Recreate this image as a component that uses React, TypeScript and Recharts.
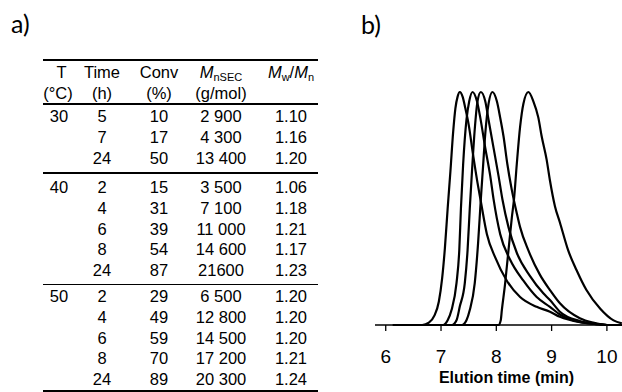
import React from "react";
import { LineChart, Line, XAxis, YAxis } from "recharts";

// ─── Table (panel a) ─────────────────────────────────────────────────────────

const temps = ["30", "40", "50"];
const groupTimes = [
  ["5", "7", "24"],
  ["2", "4", "6", "8", "24"],
  ["2", "4", "6", "8", "24"],
];
const groupConv = [
  ["10", "17", "50"],
  ["15", "31", "39", "54", "87"],
  ["29", "49", "59", "70", "89"],
];
const groupMn = [
  ["2 900", "4 300", "13 400"],
  ["3 500", "7 100", "11 000", "14 600", "21600"],
  ["6 500", "12 800", "14 500", "17 200", "20 300"],
];
const groupPdi = [
  ["1.10", "1.16", "1.20"],
  ["1.06", "1.18", "1.21", "1.17", "1.23"],
  ["1.20", "1.20", "1.20", "1.21", "1.24"],
];

// ─── SEC traces (panel b), normalised detector signal vs elution time ───────

const traceA_t = [6.13, 6.66, 6.78, 6.88, 6.96, 7.02, 7.07, 7.12, 7.17, 7.22, 7.26, 7.3, 7.34, 7.39, 7.44, 7.5, 7.58, 7.66, 7.72, 7.83, 7.98, 8.19, 8.43, 8.73, 8.97, 9.15, 9.51, 9.8, 10.05, 10.27];
const traceA_y = [0, 0, 0.01, 0.04, 0.1, 0.2, 0.33, 0.5, 0.66, 0.83, 0.93, 0.98, 1.0, 0.98, 0.93, 0.86, 0.73, 0.61, 0.53, 0.39, 0.29, 0.19, 0.12, 0.078, 0.057, 0.035, 0.012, 0.004, 0, 0];

const traceB_t = [6.13, 7.04, 7.12, 7.19, 7.28, 7.33, 7.36, 7.4, 7.46, 7.51, 7.57, 7.65, 7.71, 7.8, 7.89, 7.95, 8.07, 8.25, 8.49, 8.73, 8.97, 9.15, 9.51, 9.8, 10.0, 10.27];
const traceB_y = [0, 0, 0.02, 0.064, 0.18, 0.32, 0.5, 0.69, 0.88, 0.96, 1.0, 0.96, 0.89, 0.76, 0.64, 0.54, 0.39, 0.28, 0.19, 0.12, 0.078, 0.045, 0.013, 0.004, 0, 0];

const traceC_t = [6.13, 7.2, 7.28, 7.34, 7.43, 7.48, 7.52, 7.56, 7.61, 7.66, 7.72, 7.8, 7.86, 7.95, 8.04, 8.11, 8.22, 8.37, 8.61, 8.85, 8.97, 9.15, 9.51, 9.8, 10.0, 10.27];
const traceC_y = [0, 0, 0.02, 0.08, 0.18, 0.32, 0.5, 0.66, 0.84, 0.96, 1.0, 0.96, 0.88, 0.76, 0.64, 0.54, 0.42, 0.31, 0.21, 0.136, 0.107, 0.057, 0.017, 0.005, 0, 0];

const traceD_t = [6.13, 7.38, 7.46, 7.52, 7.61, 7.67, 7.72, 7.76, 7.8, 7.86, 7.93, 8.01, 8.07, 8.13, 8.2, 8.28, 8.37, 8.43, 8.58, 8.79, 8.97, 9.15, 9.51, 9.75, 10.0, 10.27];
const traceD_y = [0, 0, 0.02, 0.064, 0.18, 0.35, 0.54, 0.68, 0.82, 0.95, 1.0, 0.96, 0.89, 0.81, 0.69, 0.58, 0.48, 0.42, 0.32, 0.215, 0.15, 0.093, 0.029, 0.01, 0, 0];

const traceE_t = [6.13, 8.04, 8.08, 8.1, 8.16, 8.19, 8.22, 8.28, 8.32, 8.37, 8.43, 8.49, 8.58, 8.67, 8.76, 8.82, 8.91, 8.97, 9.06, 9.15, 9.3, 9.45, 9.63, 9.88, 10.12, 10.27];
const traceE_y = [0, 0, 0.02, 0.064, 0.18, 0.25, 0.32, 0.46, 0.54, 0.69, 0.85, 0.95, 1.0, 0.96, 0.89, 0.81, 0.71, 0.62, 0.51, 0.44, 0.32, 0.236, 0.15, 0.07, 0.02, 0.007];

const timeTicks = [6, 7, 8, 9, 10];

const toPoints = (t: number[], y: number[]) => t.map((v, i) => ({ t: v, y: y[i] }));

const traces = [
  toPoints(traceA_t, traceA_y),
  toPoints(traceB_t, traceB_y),
  toPoints(traceC_t, traceC_y),
  toPoints(traceD_t, traceD_y),
  toPoints(traceE_t, traceE_y),
];

const FONT = "'Liberation Sans', Arial, sans-serif";

// column centres (px) for the table
const COLS = [59, 102, 159, 221, 291];
const GROUP_START = [116, 187, 296];
const ROW_STEP = 20.8;
const RULES = [60, 104, 173, 284.3, 391];

function Cell({ x, y, children }: { x: number; y: number; children: React.ReactNode }) {
  return (
    <div
      style={{
        position: "absolute",
        left: x - 40,
        width: 80,
        top: y - 10,
        height: 20,
        lineHeight: "20px",
        textAlign: "center",
        fontSize: 16.5,
        whiteSpace: "nowrap",
      }}
    >
      {children}
    </div>
  );
}

const sub = (s: string) => (
  <span style={{ fontSize: 11, fontStyle: "normal", position: "relative", top: 3 }}>{s}</span>
);

function DataTable() {
  const cells: React.ReactNode[] = [];
  groupTimes.forEach((times, g) => {
    times.forEach((tm, i) => {
      const y = GROUP_START[g] + i * ROW_STEP;
      if (i === 0) cells.push(<Cell key={`T${g}`} x={COLS[0]} y={y}>{temps[g]}</Cell>);
      cells.push(<Cell key={`t${g}${i}`} x={COLS[1]} y={y}>{tm}</Cell>);
      cells.push(<Cell key={`c${g}${i}`} x={COLS[2]} y={y}>{groupConv[g][i]}</Cell>);
      cells.push(<Cell key={`m${g}${i}`} x={COLS[3]} y={y}>{groupMn[g][i]}</Cell>);
      cells.push(<Cell key={`p${g}${i}`} x={COLS[4]} y={y}>{groupPdi[g][i]}</Cell>);
    });
  });
  return (
    <>
      {RULES.map((r, i) => (
        <div key={`r${i}`} style={{ position: "absolute", left: 43, width: 275, top: r - 0.75, height: 1.5, background: "#000" }} />
      ))}
      <Cell x={61.5} y={72}>T</Cell>
      <Cell x={COLS[1]} y={72}>Time</Cell>
      <Cell x={COLS[2]} y={72}>Conv</Cell>
      <Cell x={COLS[3]} y={72}>
        <i>M</i>{sub("nSEC")}
      </Cell>
      <Cell x={COLS[4]} y={72}>
        <i>M</i>{sub("w")}/<i>M</i>{sub("n")}
      </Cell>
      <Cell x={58} y={93}>(°C)</Cell>
      <Cell x={COLS[1]} y={93}>(h)</Cell>
      <Cell x={COLS[2]} y={93}>(%)</Cell>
      <Cell x={COLS[3]} y={93}>(g/mol)</Cell>
      {cells}
    </>
  );
}

const panelLabel: React.CSSProperties = {
  position: "absolute",
  fontFamily: "Lato, 'Open Sans', sans-serif",
  fontSize: 25,
  lineHeight: "30px",
  color: "#000",
};

export default function App() {
  return (
    <div
      style={{
        position: "absolute",
        left: 0,
        top: 0,
        width: 622,
        height: 392,
        overflow: "hidden",
        background: "#fff",
        fontFamily: FONT,
        color: "#000",
      }}
    >
      <div style={{ ...panelLabel, left: 11, top: 8 }}>a)</div>
      <div style={{ ...panelLabel, left: 361, top: 9 }}>b)</div>
      <DataTable />
      <div style={{ position: "absolute", left: 375, top: 80 }}>
        <LineChart width={247} height={312} margin={{ top: 12, right: 0, bottom: 0, left: 0 }}>
          <XAxis
            type="number"
            dataKey="t"
            domain={[5.806, 10.273]}
            ticks={timeTicks}
            allowDataOverflow
            height={67}
            tickSize={6}
            tickMargin={19}
            axisLine={{ stroke: "#000", strokeWidth: 1.3 }}
            tickLine={{ stroke: "#000", strokeWidth: 1.3 }}
            tick={{ fill: "#000", fontSize: 19, fontFamily: FONT }}
            label={{
              value: "Elution time (min)",
              position: "insideBottom",
              offset: 9,
              dx: 8,
              fill: "#000",
              fontSize: 16,
              fontWeight: "bold",
              fontFamily: FONT,
            }}
          />
          <YAxis hide type="number" domain={[0, 1]} />
          {traces.map((d, i) => (
            <Line
              key={i}
              data={d}
              dataKey="y"
              type="monotone"
              stroke="#000"
              strokeWidth={2.2}
              dot={false}
              activeDot={false}
              isAnimationActive={false}
            />
          ))}
        </LineChart>
      </div>
    </div>
  );
}
